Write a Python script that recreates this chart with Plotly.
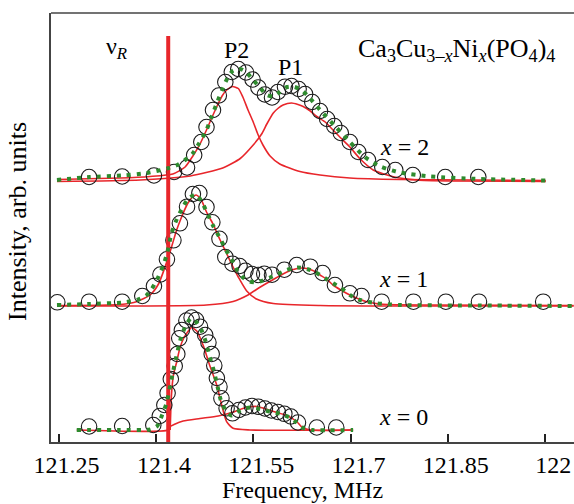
import plotly.graph_objects as go

# ---------------- data (frequency in MHz, intensity in arb. units incl. vertical offset) -------------
# x = 2
f_x2_obs = [121.297, 121.348, 121.397, 121.428, 121.448, 121.459, 121.470, 121.478, 121.488, 121.497,
            121.507, 121.517, 121.527, 121.539, 121.549, 121.558, 121.568, 121.579, 121.588, 121.599,
            121.609, 121.620, 121.630, 121.641, 121.653, 121.664, 121.675, 121.685, 121.699, 121.712,
            121.727, 121.749, 121.769, 121.796, 121.846, 121.897]
i_x2_obs = [265, 265.5, 266.5, 270, 274.5, 287, 300, 315, 332, 346.5,
            360, 370, 373, 369.5, 362.5, 354.5, 347.5, 344.5, 350, 355.3,
            356, 353, 348, 340, 331, 323, 316, 309, 300, 290,
            282, 275, 272, 267, 265, 265]
f_x2_fit = [121.2475, 121.298, 121.349, 121.386, 121.417, 121.433, 121.443, 121.456, 121.466, 121.478,
            121.486, 121.494, 121.502, 121.510, 121.519, 121.530, 121.539, 121.550, 121.561, 121.571,
            121.581, 121.591, 121.602, 121.611, 121.622, 121.633, 121.653, 121.676, 121.699, 121.722,
            121.746, 121.776, 121.823, 121.900, 122.001]
i_x2_fit = [262, 265, 266.5, 269, 273.5, 277, 281, 288, 298, 312,
            325.5, 339, 352, 363.5, 371.5, 373, 370, 362, 354, 347,
            345.5, 350, 355, 355.5, 353, 347, 332, 316, 300, 285,
            275.5, 269.5, 265.5, 263, 261.5]
f_x2_p2 = [121.2475, 121.345, 121.391, 121.426, 121.445, 121.457, 121.468, 121.478, 121.486, 121.494,
           121.502, 121.510, 121.518, 121.527, 121.534, 121.542, 121.550, 121.557, 121.565, 121.576,
           121.591, 121.622, 121.653, 121.699, 121.776, 122.001]
i_x2_p2 = [262.5, 264, 265.5, 268, 275, 286, 298, 312, 324, 335.5,
           346, 352.5, 355.5, 353.5, 345, 332, 320, 308, 297, 286,
           278, 270.5, 267, 264, 262.5, 261.5]
f_x2_p1 = [121.2475, 121.376, 121.453, 121.503, 121.530, 121.550, 121.563, 121.571, 121.581, 121.588,
           121.596, 121.609, 121.619, 121.627, 121.638, 121.648, 121.661, 121.673, 121.685, 121.699,
           121.715, 121.735, 121.766, 121.802, 121.853, 122.001]
i_x2_p1 = [260.5, 262, 266, 274, 283.5, 297, 308, 318, 329, 333.5,
           337, 339, 337.5, 335.5, 331, 325.5, 320, 312, 304, 295,
           283, 272, 265.3, 262, 261, 260.5]

# x = 1
f_x1_obs = [121.248, 121.297, 121.348, 121.379, 121.397, 121.407, 121.417, 121.427, 121.437, 121.448,
            121.457, 121.467, 121.478, 121.487, 121.498, 121.507, 121.518, 121.529, 121.538, 121.548,
            121.558, 121.567, 121.579, 121.598, 121.617, 121.638, 121.657, 121.676, 121.699, 121.717,
            121.748, 121.797, 121.847, 121.898, 121.997]
i_x1_obs = [139.7, 140.3, 140.3, 146, 156, 167.5, 182.7, 201.7, 218.7, 235.3,
            248, 249, 235, 219.7, 203.2, 185, 178.3, 176, 171.2, 168,
            167, 168.3, 167.3, 172.3, 177, 175.3, 169, 157, 148.7, 146,
            140.3, 140.3, 140.3, 140.3, 140.3]
f_x1_fit = [121.2475, 121.298, 121.349, 121.371, 121.385, 121.394, 121.403, 121.411, 121.417, 121.424,
            121.431, 121.440, 121.450, 121.462, 121.471, 121.478, 121.488, 121.499, 121.508, 121.517,
            121.525, 121.535, 121.545, 121.555, 121.565, 121.576, 121.588, 121.602, 121.618, 121.633,
            121.645, 121.661, 121.673, 121.686, 121.699, 121.715, 121.741, 121.776, 121.900, 122.044]
i_x1_fit = [137, 138, 139.5, 142, 146.5, 153.5, 164, 176, 188, 208.5,
            221, 233, 243.5, 247.5, 240, 230.3, 216.5, 203.5, 192, 182,
            172, 164, 160.5, 159.5, 161.5, 164.5, 168, 172, 174.5, 173,
            170, 163.7, 158.7, 153.7, 147, 142, 138.7, 137, 136.5, 136]
f_x1_a = [121.2475, 121.345, 121.371, 121.391, 121.404, 121.417, 121.425, 121.432, 121.439, 121.447,
          121.455, 121.462, 121.470, 121.478, 121.488, 121.499, 121.508, 121.517, 121.527, 121.540,
          121.555, 121.581, 121.653, 121.776, 122.044]
i_x1_a = [136.5, 137.5, 140.5, 147, 158, 180.5, 197, 212, 224, 236,
          244, 247, 242, 230, 218, 202, 190, 177.5, 165, 151,
          143, 138.5, 136.5, 136, 136]
f_x1_b = [121.2475, 121.376, 121.478, 121.519, 121.542, 121.561, 121.581, 121.602, 121.618, 121.627,
          121.642, 121.653, 121.663, 121.673, 121.685, 121.699, 121.725, 121.750, 121.827, 122.044]
i_x1_b = [136, 136, 137, 140.5, 147, 155, 162.5, 170, 173.5, 174,
          171.5, 167, 163, 157, 152, 147, 140.3, 137.7, 137, 136.5]

# x = 0
f_x0_obs = [121.297, 121.348, 121.396, 121.406, 121.413, 121.418, 121.423, 121.429, 121.433, 121.436,
            121.440, 121.447, 121.455, 121.462, 121.468, 121.476, 121.481, 121.486, 121.490, 121.494,
            121.498, 121.501, 121.509, 121.518, 121.528, 121.538, 121.548, 121.558, 121.568, 121.578,
            121.588, 121.598, 121.608, 121.619, 121.648, 121.678]
i_x0_obs = [15.5, 16, 17, 26, 37, 49, 63, 76, 88, 103.7,
            112, 121.5, 124.5, 122, 115.3, 107, 99.5, 88, 76.5, 64,
            55.3, 43.7, 33.7, 28.7, 32, 34.5, 36, 35.2, 33.5, 31.5,
            30, 28.2, 25.5, 19.5, 14.5, 14.5]
f_x0_fit = [121.278, 121.345, 121.391, 121.402, 121.409, 121.416, 121.421, 121.426, 121.431, 121.436,
            121.440, 121.446, 121.454, 121.461, 121.470, 121.477, 121.483, 121.489, 121.495, 121.500,
            121.508, 121.516, 121.527, 121.537, 121.545, 121.561, 121.576, 121.593, 121.608, 121.617,
            121.627, 121.641, 121.704]
i_x0_fit = [12, 12, 12.5, 16, 26, 38, 53, 69, 84, 98,
            107, 116.5, 123.7, 121, 112, 100, 85, 72, 55.5, 42,
            31, 26.5, 30.5, 33.5, 34.5, 33, 30.3, 28, 24, 19.5,
            14, 12, 12]
f_x0_a = [121.422, 121.424, 121.427, 121.432, 121.437, 121.443, 121.450, 121.455, 121.463, 121.473,
          121.483, 121.494, 121.501, 121.509, 121.519, 121.545, 121.704]
i_x0_a = [12, 47, 67, 80, 94, 104, 111, 114.5, 111, 96.5,
          76.5, 56.5, 38, 20.3, 13.7, 12, 12]
f_x0_b = [121.278, 121.419, 121.422, 121.428, 121.442, 121.468, 121.496, 121.517, 121.534, 121.545,
          121.556, 121.567, 121.584, 121.602, 121.617, 121.625, 121.638, 121.704]
i_x0_b = [12, 12, 15.5, 17.5, 21, 23.5, 26, 29.5, 33.5, 35.2,
          35.5, 33.5, 30, 26.5, 20.5, 15, 12, 12]

NU_R = 121.419            # resonance frequency marker
NU_R_TOP = 406            # upper end of the marker line (arb. units)

x_tick_vals = [121.25, 121.4, 121.55, 121.7, 121.85, 122.0]
x_tick_text = ["121.25", "121.4", "121.55", "121.7", "121.85", "122"]

# ---------------- styling ---------------
FONT = "Liberation Serif, Times New Roman, serif"
RED = "#e8262b"
GREEN = "#2e8b2e"
CIRCLE = "#1a1a1a"

fig = go.Figure()

components = [(f_x2_p2, i_x2_p2), (f_x2_p1, i_x2_p1),
              (f_x1_a, i_x1_a), (f_x1_b, i_x1_b),
              (f_x0_a, i_x0_a), (f_x0_b, i_x0_b)]
for fx, iy in components:
    fig.add_trace(go.Scatter(x=fx, y=iy, mode="lines",
                             line=dict(color=RED, width=1.6, shape="spline", smoothing=0.6),
                             hoverinfo="skip"))

for fx, iy in [(f_x2_obs, i_x2_obs), (f_x1_obs, i_x1_obs), (f_x0_obs, i_x0_obs)]:
    fig.add_trace(go.Scatter(x=fx, y=iy, mode="markers",
                             marker=dict(symbol="circle-open", size=15.5, color=CIRCLE,
                                         line=dict(width=1.1, color=CIRCLE))))

fig.add_trace(go.Scatter(x=[NU_R, NU_R], y=[0, NU_R_TOP], mode="lines",
                         line=dict(color=RED, width=4), hoverinfo="skip"))

for fx, iy in [(f_x2_fit, i_x2_fit), (f_x1_fit, i_x1_fit), (f_x0_fit, i_x0_fit)]:
    fig.add_trace(go.Scatter(x=fx, y=iy, mode="lines",
                             line=dict(color=GREEN, width=4, dash="4px,6px",
                                       shape="spline", smoothing=0.6)))

ann_font = dict(family=FONT, size=24, color="black")
annotations = [
    dict(x=121.340, y=394, text="ν<sub><i>R</i></sub>", showarrow=False, font=ann_font,
         xanchor="center", yanchor="middle"),
    dict(x=121.525, y=392, text="P2", showarrow=False, font=ann_font,
         xanchor="center", yanchor="middle"),
    dict(x=121.607, y=375, text="P1", showarrow=False, font=ann_font,
         xanchor="center", yanchor="middle"),
    dict(x=121.709, y=392, text="Ca<sub>3</sub>Cu<sub>3–<i>x</i></sub>Ni<sub><i>x</i></sub>(PO<sub>4</sub>)<sub>4</sub>",
         showarrow=False, font=dict(family=FONT, size=26, color="black"),
         xanchor="left", yanchor="middle"),
    dict(x=121.783, y=295, text="<i>x</i> = 2", showarrow=False, font=ann_font,
         xanchor="center", yanchor="middle"),
    dict(x=121.781, y=163, text="<i>x</i> = 1", showarrow=False, font=ann_font,
         xanchor="center", yanchor="middle"),
    dict(x=121.781, y=25, text="<i>x</i> = 0", showarrow=False, font=ann_font,
         xanchor="center", yanchor="middle"),
    # axis titles
    dict(xref="paper", yref="paper", x=0.48, y=-0.1119, text="Frequency, MHz", showarrow=False,
         font=dict(family=FONT, size=24, color="black"), xanchor="center", yanchor="middle"),
    dict(xref="paper", yref="paper", x=-0.063, y=0.513, text="Intensity, arb. units", showarrow=False,
         textangle=-90, font=dict(family=FONT, size=26, color="black"),
         xanchor="center", yanchor="middle"),
]

fig.update_layout(
    width=574, height=504,
    margin=dict(l=51, r=0, t=13, b=62),
    paper_bgcolor="white", plot_bgcolor="white",
    showlegend=False,
    font=dict(family=FONT, size=24, color="black"),
    annotations=annotations,
    shapes=[dict(type="line", xref="paper", yref="paper", x0=0, x1=1, y0=1, y1=1,
                 line=dict(color="#444", width=1.5))],
    xaxis=dict(range=[121.2383, 122.0445], tickvals=x_tick_vals, ticktext=x_tick_text,
               ticks="inside", ticklen=8, tickwidth=1.5, tickcolor="#222",
               showline=True, linecolor="#444", linewidth=1.5,
               showgrid=False, zeroline=False, ticklabelshift=8, ticklabelstandoff=0,
               tickfont=dict(family=FONT, size=24, color="black")),
    yaxis=dict(range=[0, 429], showticklabels=False, ticks="",
               showline=True, linecolor="#444", linewidth=1.5,
               showgrid=False, zeroline=False),
)

fig.write_html("out.html", config={"displayModeBar": False},
               post_script="document.body.style.margin='0';")
